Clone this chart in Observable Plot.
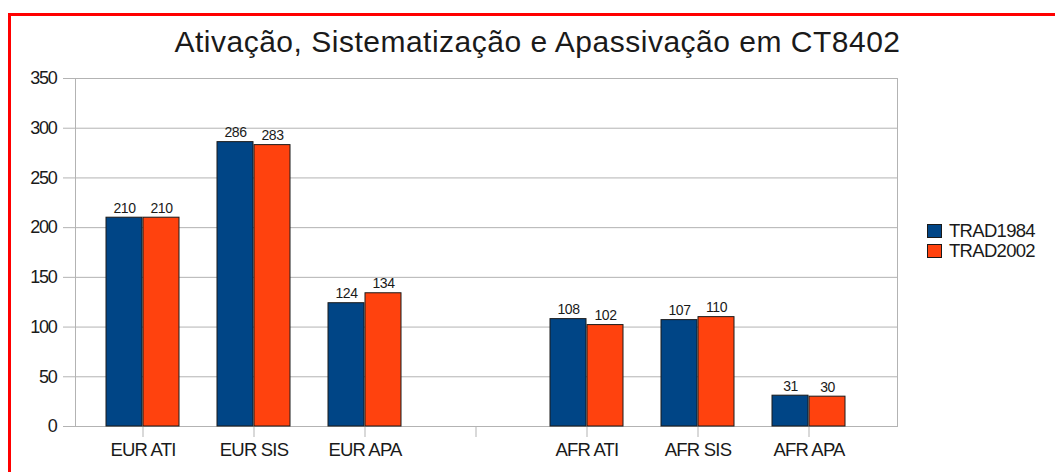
<!DOCTYPE html>
<html><head><meta charset="utf-8">
<script src="https://cdn.jsdelivr.net/npm/d3@7"></script>
<script src="https://cdn.jsdelivr.net/npm/@observablehq/plot@0.6"></script>
<style>
html,body{margin:0;padding:0;background:#fff;overflow:hidden;width:1055px;height:472px;}
#wrap{position:relative;width:1055px;height:472px;font-family:"Liberation Sans",Arial,sans-serif;color:#1a1a1a;overflow:hidden;}
#redframe{position:absolute;left:8px;top:13px;width:1200px;height:700px;border:3px solid #ff0000;box-sizing:border-box;pointer-events:none;}
#title{position:absolute;left:0;top:27px;width:1075px;text-align:center;font-size:30px;line-height:30px;letter-spacing:0.5px;white-space:nowrap;}
#chart{position:absolute;left:0;top:60px;}
#legend{position:absolute;left:927px;top:224px;font-size:18.5px;letter-spacing:-0.7px;}
.lg{display:flex;align-items:center;height:26px;margin-top:-6px;}
.sw{width:13px;height:12px;border:1px solid #1a1a1a;margin-right:7px;}
#chart svg [aria-label="y-axis tick label"] text{letter-spacing:-1.3px;}
#chart svg [aria-label="x-axis tick label"] text{letter-spacing:-0.8px;}
#chart svg [aria-label="text"] text{letter-spacing:-0.5px;}
</style>
</head><body>
<div id="wrap">
  <div id="title"></div>
  <div id="chart"></div>
  <div id="legend"></div>
  <div id="redframe"></div>
</div>
<script>
const title = "Ativação, Sistematização e Apassivação em CT8402";
const categories = ["EUR ATI","EUR SIS","EUR APA","","AFR ATI","AFR SIS","AFR APA"];
const seriesNames = ["TRAD1984","TRAD2002"];
const trad1984 = [210, 286, 124, null, 108, 107, 31];
const trad2002 = [210, 283, 134, null, 102, 110, 30];
const yTicks = [0, 50, 100, 150, 200, 250, 300, 350];
const colors = ["#004586", "#ff420e"];

const data = [];
categories.forEach((c, i) => {
  if (trad1984[i] != null) data.push({category: c, series: seriesNames[0], value: trad1984[i]});
  if (trad2002[i] != null) data.push({category: c, series: seriesNames[1], value: trad2002[i]});
});
const s1 = data.filter(d => d.series === seriesNames[0]);
const s2 = data.filter(d => d.series === seriesNames[1]);

document.getElementById("title").textContent = title;

const chart = Plot.plot({
  width: 1055,
  height: 412,
  marginTop: 18,
  marginBottom: 46,
  marginLeft: 75,
  marginRight: 158,
  style: {fontFamily: '"Liberation Sans", Arial, sans-serif', fontSize: "16px", color: "#1a1a1a", background: "transparent"},
  x: {type: "band", domain: categories, range: [84, 867], padding: 0, label: null},
  y: {domain: [0, 350], label: null},
  color: {domain: seriesNames, range: colors},
  marks: [
    Plot.gridY(yTicks, {stroke: "#b3b3b3", strokeOpacity: 1}),
    Plot.frame({stroke: "#b3b3b3"}),
    Plot.axisY({ticks: yTicks, tickSize: 12, tickPadding: 7, stroke: "#b3b3b3", fontSize: 18, label: null}),
    Plot.axisX({tickSize: 11, tickPadding: 5, stroke: "#b3b3b3", fontSize: 18.5, label: null}),
    Plot.barY(s1, {x: "category", y: "value", fill: "series", stroke: "#1a1a1a", strokeWidth: 1, insetLeft: 19, insetRight: 56}),
    Plot.barY(s2, {x: "category", y: "value", fill: "series", stroke: "#1a1a1a", strokeWidth: 1, insetLeft: 56, insetRight: 19}),
    Plot.text(s1, {x: "category", y: "value", text: d => String(d.value), dx: -18.5, dy: -5, lineAnchor: "bottom", fontSize: 14, fill: "#1a1a1a"}),
    Plot.text(s2, {x: "category", y: "value", text: d => String(d.value), dx: 18.5, dy: -5, lineAnchor: "bottom", fontSize: 14, fill: "#1a1a1a"})
  ]
});
document.getElementById("chart").appendChild(chart);

const legend = document.getElementById("legend");
seriesNames.forEach((name, i) => {
  const row = document.createElement("div");
  row.className = "lg";
  const sw = document.createElement("div");
  sw.className = "sw";
  sw.style.background = colors[i];
  const t = document.createElement("span");
  t.textContent = name;
  row.appendChild(sw);
  row.appendChild(t);
  legend.appendChild(row);
});
</script>
</body></html>
